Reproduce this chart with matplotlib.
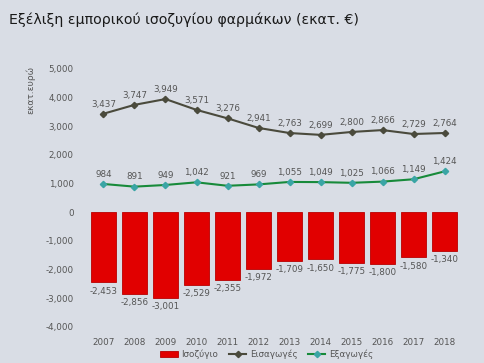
import matplotlib
matplotlib.use("Agg")
import matplotlib.pyplot as plt
import numpy as np

years = ["2007", "2008", "2009", "2010", "2011", "2012", "2013", "2014", "2015", "2016", "2017", "2018"]
imports = [3437, 3747, 3949, 3571, 3276, 2941, 2763, 2699, 2800, 2866, 2729, 2764]
exports = [984, 891, 949, 1042, 921, 969, 1055, 1049, 1025, 1066, 1149, 1424]
balance = [-2453, -2856, -3001, -2529, -2355, -1972, -1709, -1650, -1775, -1800, -1580, -1340]
yticks = [-4000, -3000, -2000, -1000, 0, 1000, 2000, 3000, 4000, 5000]

bg = "#d9dde5"
txt = "#555555"
plt.rcParams['font.family'] = ['DejaVu Sans']

fig = plt.figure(figsize=(4.85, 3.63), dpi=100, facecolor=bg)
ax = fig.add_axes([0.175, 0.10, 0.78, 0.71], facecolor=bg)

x = np.arange(len(years))
hb = ax.bar(x, balance, width=0.82, color="#e10000", edgecolor="#b80000", linewidth=0.6, label="Ισοζύγιο", zorder=2)
hi, = ax.plot(x, imports, color="#4a4a3c", lw=1.5, marker="D", ms=3.2, mfc="#4a4a3c", label="Εισαγωγές", zorder=3)
he, = ax.plot(x, exports, color="#178a3a", lw=1.5, marker="D", ms=3.2, mfc="#3aa5a5", mec="#3aa5a5", label="Εξαγωγές", zorder=3)

def fmt(v):
    return f"{v:,}"

for xi, v in zip(x, imports):
    ax.text(xi, v + 180, fmt(v), ha="center", va="bottom", fontsize=6.3, color=txt)
for xi, v in zip(x, exports):
    ax.text(xi, v + 180, fmt(v), ha="center", va="bottom", fontsize=6.3, color=txt)
for xi, v in zip(x, balance):
    ax.text(xi, v - 150, fmt(v), ha="center", va="top", fontsize=6.3, color=txt)

ax.set_ylim(-4000, 5000)
ax.set_xlim(-0.6, len(years) - 0.4)
ax.set_yticks(yticks)
ax.set_yticklabels([fmt(t) for t in yticks], fontsize=6.3, color=txt)
ax.set_xticks(x)
ax.set_xticklabels(years, fontsize=6.3, color=txt)
ax.tick_params(length=0, pad=8)
for s in ax.spines.values():
    s.set_visible(False)
ax.set_ylabel("εκατ.ευρώ", fontsize=6.5, color=txt, labelpad=2)
ax.yaxis.set_label_coords(-0.13, 0.92)

fig.text(0.018, 0.945, "Εξέλιξη εμπορικού ισοζυγίου φαρμάκων (εκατ. €)", fontsize=10.2, color="#1a1a1a", ha="left", va="center")

leg = fig.legend(handles=[hb, hi, he], loc="lower center", bbox_to_anchor=(0.55, -0.01), ncol=3, frameon=False,
                 fontsize=6.3, handlelength=2.0, columnspacing=1.2, handletextpad=0.4)
for t in leg.get_texts():
    t.set_color(txt)

fig.savefig("out.png", dpi=100, facecolor=bg)
